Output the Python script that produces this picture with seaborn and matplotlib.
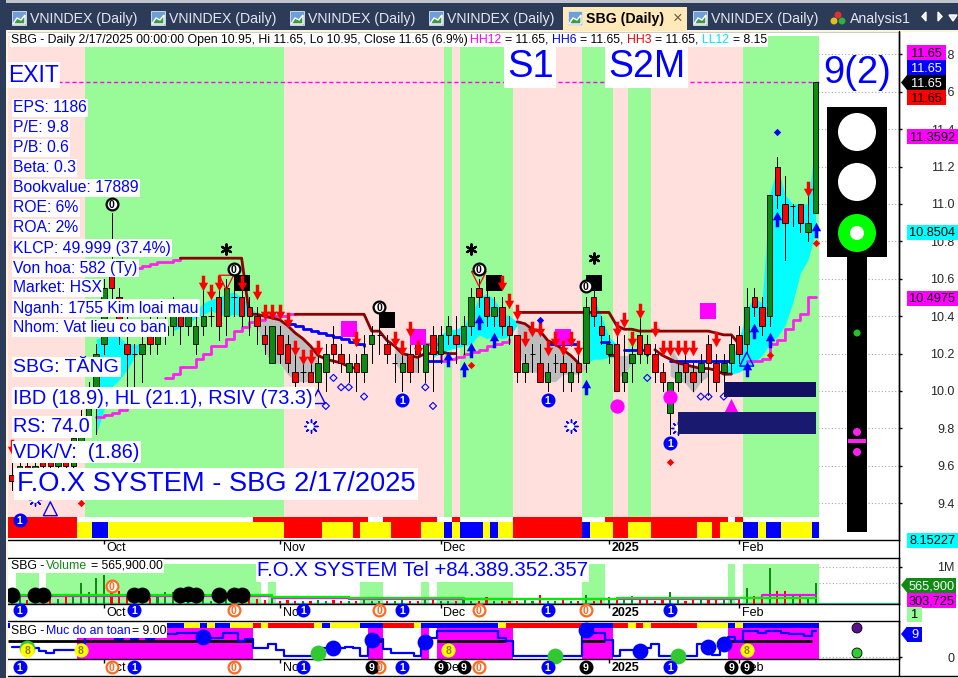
import numpy as np
import pandas as pd
import matplotlib
matplotlib.use("Agg")
import matplotlib.pyplot as plt
import seaborn as sns
from matplotlib.patches import Rectangle, Circle, Polygon
from matplotlib.path import Path
from matplotlib.transforms import ScaledTranslation

W, H = 958, 678
XLIM = (-0.53, 115.9)

opens = [9.55, 9.55, 9.60, 9.55, 9.65, 9.65, 9.60, 9.65, 9.60, 9.70,
         9.85, 10.00, 10.25, 10.70, 10.50, 10.25, 10.20, 10.20, 10.30, 10.25,
         10.30, 10.35, 10.40, 10.35, 10.25, 10.35, 10.40, 10.50, 10.40, 10.50,
         10.50, 10.45, 10.40, 10.30, 10.15, 10.30, 10.25, 10.10, 10.10, 10.10,
         10.05, 10.10, 10.25, 10.20, 10.10, 10.15, 10.10, 10.25, 10.30, 10.25,
         10.15, 10.10, 10.20, 10.25, 10.10, 10.30, 10.20, 10.30, 10.30, 10.25,
         10.35, 10.55, 10.50, 10.40, 10.45, 10.35, 10.30, 10.10, 10.20, 10.15,
         10.05, 10.15, 10.15, 10.05, 10.15, 10.15, 10.50, 10.35, 10.20, 10.25,
         10.05, 10.15, 10.30, 10.25, 10.20, 10.10, 9.88, 10.05, 10.15, 10.10,
         10.10, 10.25, 10.15, 10.10, 10.15, 10.30, 10.25, 10.50, 10.45, 10.40,
         11.20, 11.00, 10.99, 11.00, 10.85, 10.95]
closes = [9.52, 9.60, 9.55, 9.60, 9.60, 9.60, 9.65, 9.60, 9.75, 9.85,
          10.00, 10.20, 10.55, 10.55, 10.30, 10.20, 10.20, 10.25, 10.25, 10.30,
          10.35, 10.40, 10.35, 10.40, 10.35, 10.40, 10.40, 10.35, 10.55, 10.50,
          10.40, 10.40, 10.35, 10.25, 10.35, 10.20, 10.15, 10.05, 10.10, 10.05,
          10.15, 10.20, 10.20, 10.15, 10.15, 10.10, 10.20, 10.30, 10.30, 10.20,
          10.15, 10.15, 10.10, 10.20, 10.25, 10.20, 10.30, 10.35, 10.25, 10.35,
          10.50, 10.50, 10.40, 10.45, 10.35, 10.30, 10.10, 10.15, 10.20, 10.05,
          10.10, 10.15, 10.10, 10.10, 10.10, 10.45, 10.40, 10.30, 10.25, 10.00,
          10.10, 10.20, 10.20, 10.20, 10.10, 10.05, 10.05, 10.10, 10.10, 10.05,
          10.15, 10.15, 10.05, 10.15, 10.25, 10.20, 10.45, 10.45, 10.35, 11.05,
          11.05, 10.90, 10.99, 10.90, 10.90, 11.65]
highs = [9.62, 9.65, 9.65, 9.70, 9.70, 9.70, 9.70, 9.70, 9.80, 9.90,
         10.05, 10.25, 10.60, 10.95, 10.55, 10.40, 10.25, 10.30, 10.40, 10.40,
         10.45, 10.50, 10.45, 10.45, 10.40, 10.55, 10.45, 10.55, 10.60, 10.60,
         10.60, 10.50, 10.45, 10.35, 10.35, 10.35, 10.30, 10.20, 10.15, 10.15,
         10.20, 10.25, 10.35, 10.25, 10.20, 10.20, 10.30, 10.35, 10.40, 10.30,
         10.20, 10.20, 10.25, 10.30, 10.30, 10.35, 10.35, 10.40, 10.40, 10.40,
         10.55, 10.60, 10.55, 10.50, 10.50, 10.40, 10.30, 10.20, 10.25, 10.25,
         10.15, 10.20, 10.20, 10.15, 10.20, 10.50, 10.55, 10.40, 10.30, 10.30,
         10.30, 10.25, 10.40, 10.30, 10.25, 10.15, 10.05, 10.15, 10.20, 10.15,
         10.20, 10.30, 10.20, 10.20, 10.30, 10.35, 10.55, 10.55, 10.50, 11.05,
         11.25, 11.15, 11.00, 11.00, 11.10, 11.65]
lows = [9.47, 9.50, 9.50, 9.50, 9.55, 9.55, 9.55, 9.55, 9.55, 9.65,
        9.80, 9.77, 10.20, 10.45, 10.25, 10.00, 10.00, 10.05, 10.20, 10.20,
        10.25, 10.30, 10.25, 10.30, 10.20, 10.30, 10.35, 10.27, 10.30, 10.40,
        10.35, 10.30, 10.25, 10.20, 10.15, 10.15, 10.10, 10.00, 10.05, 10.05,
        10.00, 10.00, 10.15, 10.10, 10.05, 10.00, 10.05, 10.15, 10.20, 10.15,
        10.05, 10.00, 10.05, 10.10, 10.05, 10.00, 10.15, 10.25, 10.15, 10.20,
        10.30, 10.45, 10.35, 10.35, 10.30, 10.25, 10.05, 10.05, 10.10, 10.05,
        10.00, 10.10, 10.00, 10.00, 10.05, 10.10, 10.35, 10.25, 10.15, 10.00,
        10.00, 10.05, 10.15, 10.15, 10.05, 10.00, 9.77, 10.00, 10.05, 10.00,
        10.05, 9.98, 10.00, 10.05, 10.10, 10.15, 10.20, 10.40, 10.30, 10.35,
        10.98, 10.70, 10.88, 10.85, 10.80, 10.95]
volumes = [72, 180, 110, 135, 180, 270, 135, 180, 200, 570,
           315, 700, 790, 495, 360, 270, 200, 225, 160, 180,
           315, 315, 135, 135, 160, 270, 90, 270, 270, 225,
           160, 315, 135, 110, 180, 90, 110, 90, 90, 80,
           110, 90, 110, 70, 90, 70, 110, 80, 90, 70,
           80, 110, 90, 80, 180, 110, 90, 80, 80, 110,
           90, 70, 180, 90, 70, 80, 90, 110, 80, 240,
           90, 80, 110, 90, 80, 245, 90, 110, 200, 110,
           200, 225, 135, 110, 90, 135, 315, 110, 90, 135,
           110, 135, 110, 135, 110, 135, 420, 225, 180, 960,
           340, 360, 250, 225, 200, 566]
vol_fast = [252] * 34 + [190] * 10 + [160] * 15 + [126] * 20 + [160] * 27
vol_slow = [225] * 34 + [170] * 10 + [140] * 15 + [135] * 20 + [140] * 16 + [170] * 3 + [234] * 8
safety = [3.8, 3.8, 3.8, 3.5, 2.3, 1.4, 2.5, 2.5, 2.5, 2.0,
          8.0, 8.5, 9.0, 8.6, 7.0, 8.0, 7.0, 8.0, 7.0, 8.0,
          8.6, 8.6, 9.2, 9.2, 9.2, 7.3, 7.3, 7.3, 9.2, 9.2,
          6.0, 6.7, 3.5, 3.5, 4.8, 2.5, 0.4, 0.4, 0.4, 0.4,
          1.6, 3.5, 3.5, 3.5, 3.8, 3.5, 0.4, 4.8, 6.7, 2.9,
          1.4, 1.4, 1.4, 0.4, 3.8, 7.3, 9.9, 10.0, 10.0, 10.0,
          10.0, 9.9, 9.9, 10.0, 7.3, 6.0, 0.4, 0.4, 0.4, 0.4,
          0.4, 0.4, 0.4, 0.4, 0.4, 11.0, 9.2, 9.2, 6.3, 0.4,
          2.5, 2.5, 3.5, 3.5, 4.8, 0.4, 0.4, 0.4, 0.4, 0.4,
          4.8, 4.8, 0.7, 5.4, 7.6, 6.0, 10.0, 10.0, 9.2, 10.0,
          10.0, 9.0, 8.6, 8.6, 8.0, 10.0]

regime_codes = ["p", "g", "p", "g", "p", "g", "p", "g", "p", "g", "p", "g"]
regime_runs = [10, 26, 21, 1, 1, 7, 9, 4, 2, 3, 12, 10]
strip1_codes = ["r", "w", "r", "w", "r", "w", "r", "w", "r", "w", "r", "w", "r", "w"]
strip1_runs = [9, 23, 15, 2, 7, 2, 1, 7, 9, 3, 16, 1, 1, 10]
strip2_codes = ["r", "y", "b", "y", "r", "y", "r", "y", "r", "y",
                "b", "y", "b", "y", "b", "y", "r", "b", "y", "r",
                "y", "r", "y", "r", "y", "b", "y", "b", "y", "b"]
strip2_runs = [9, 2, 2, 23, 5, 4, 1, 4, 4, 3, 1, 1, 3, 1, 1, 2, 9, 1, 3, 2, 3, 6, 2, 1, 3, 2, 1, 2, 4, 1]
strip3_codes = ["b", "y", "b", "y", "b", "y", "r", "y", "r", "y", "b", "y", "b", "r", "y", "b", "y",
                "r", "b", "r", "y", "r", "y", "r", "y", "b", "y", "b"]
strip3_runs = [23, 2, 1, 1, 2, 3, 1, 1, 6, 1, 1, 4, 3, 4, 1, 10, 1, 10, 4, 2, 1, 1, 1, 6, 4, 1, 1, 10]
safe_zone_codes = ["w", "m", "w", "m", "w", "m", "w", "m", "w", "m", "w", "m"]
safe_zone_runs = [9, 23, 15, 2, 5, 1, 1, 10, 9, 4, 15, 12]
vol_zone_codes = ["w", "g", "w", "g", "w", "g", "w", "g", "w", "g", "w", "g", "w", "g", "w", "g", "w", "g"]
vol_zone_runs = [1, 3, 1, 28, 1, 1, 11, 3, 5, 1, 1, 10, 9, 3, 16, 1, 1, 10]

# indicator lines, each piece = start bar + values
dark_pieces = [
    (22, [10.71] * 9 + [10.41, 10.41, 10.40, 10.39, 10.38, 10.35, 10.31, 10.28, 10.24, 10.19, 10.17, 10.16, 10.15, 10.13, 10.12]),
    (37, [10.41] * 10 + [10.32, 10.32, 10.27, 10.24, 10.20, 10.19, 10.18, 10.20, 10.20, 10.21, 10.20, 10.20]),
    (66, [10.37, 10.36, 10.33, 10.32, 10.27, 10.25, 10.22, 10.19, 10.15]),
    (66, [10.42] * 13 + [10.35, 10.33, 10.33, 10.32, 10.32, 10.32, 10.32, 10.32, 10.32, 10.32, 10.32, 10.32, 10.32, 10.31, 10.30, 10.30, 10.25]),
    (78, [10.19, 10.19]),
    (84, [10.22, 10.19, 10.17, 10.15, 10.14, 10.13, 10.12, 10.12, 10.11, 10.09, 10.09]),
]
blue_pieces = [
    (36, [10.36, 10.35, 10.33, 10.32, 10.31, 10.30, 10.29, 10.28, 10.26, 10.25, 10.24]),
    (54, [10.16, 10.16, 10.16]),
    (70, [10.25, 10.25, 10.25, 10.25, 10.25]),
    (77, [10.26, 10.26]),
    (80, [10.22, 10.22, 10.22, 10.19]),
    (86, [10.16] * 9),
]
magenta_pieces = [
    (11, [9.86, 9.87, 9.88, 9.90, 9.92, 9.94, 9.95, 9.97, 9.99]),
    (16, [10.66, 10.67, 10.68, 10.69, 10.69, 10.70, 10.71]),
    (20, [10.07, 10.09, 10.13, 10.13, 10.17, 10.20, 10.24, 10.24, 10.28, 10.32, 10.34, 10.37, 10.38, 10.40, 10.40, 10.40, 10.41, 10.41]),
    (54, [10.25, 10.25, 10.16, 10.17, 10.18, 10.20, 10.21, 10.22, 10.24, 10.25, 10.26, 10.28]),
    (92, [10.16, 10.16, 10.16]),
    (96, [10.16, 10.16, 10.17, 10.25, 10.27, 10.33, 10.38, 10.41, 10.50, 10.50]),
]
cyan_pieces = [
    (11, [10.28, 10.29, 10.32, 10.29, 10.25, 10.25, 10.25], [9.77, 9.90, 10.02, 10.06, 10.11, 10.18, 10.24]),
    (21, [10.38, 10.40, 10.41, 10.43, 10.47, 10.49, 10.50, 10.52, 10.53, 10.50, 10.46, 10.41],
     [10.32, 10.34, 10.36, 10.39, 10.41, 10.43, 10.41, 10.40, 10.41, 10.40, 10.41, 10.40]),
    (55, [10.27, 10.30, 10.33, 10.33, 10.35, 10.41, 10.50, 10.52, 10.49, 10.42, 10.40, 10.37],
     [10.18, 10.20, 10.22, 10.23, 10.24, 10.25, 10.30, 10.28, 10.29, 10.28, 10.29, 10.35]),
    (75, [10.34, 10.50, 10.40, 10.29, 10.25], [10.15, 10.17, 10.17, 10.18, 10.18]),
    (93, [10.09, 10.17, 10.27, 10.44, 10.50, 10.47, 11.05, 11.20, 11.05, 11.00, 11.00, 11.00, 11.35],
     [10.08, 10.09, 10.10, 10.13, 10.15, 10.19, 10.25, 10.29, 10.35, 10.47, 10.63, 10.70, 10.85]),
]
gray_pieces = [
    (32, [10.40, 10.39, 10.40, 10.38, 10.35, 10.32, 10.28, 10.24, 10.19], [10.36, 10.21, 10.15, 10.15, 10.09, 10.05, 10.05, 10.05, 10.15]),
    (50, [10.24, 10.20, 10.19, 10.18], [10.15, 10.10, 10.10, 10.10]),
    (66, [10.37, 10.36, 10.33, 10.32, 10.27, 10.25, 10.22, 10.19, 10.15, 10.14], [10.24, 10.10, 10.10, 10.10, 10.05, 10.05, 10.09, 10.09, 10.09, 10.12]),
    (79, [10.19, 10.19, 10.19], [10.07, 10.09, 10.15]),
    (86, [10.24, 10.17, 10.15, 10.13, 10.11, 10.10], [10.08, 10.06, 10.04, 9.99, 10.05, 10.08]),
]

down_x = [0, 25, 26, 27, 30, 32, 33, 34, 35, 36, 37, 38, 39, 40, 45, 50, 51, 52, 53,
          64, 65, 66, 67, 68, 69, 70, 71, 72, 73, 74, 79, 80, 81, 82, 84, 85, 86, 87, 88, 89, 92, 104]
down_y = [9.70, 10.58, 10.53, 10.58, 10.58, 10.53, 10.42, 10.42, 10.42, 10.38, 10.23, 10.18, 10.18, 10.23, 10.28, 10.28, 10.23, 10.33, 10.23,
          10.58, 10.48, 10.42, 10.28, 10.33, 10.33, 10.23, 10.28, 10.23, 10.28, 10.23, 10.33, 10.38, 10.28, 10.43, 10.33, 10.23, 10.23, 10.23, 10.23, 10.23, 10.28, 11.08]
up_x = [57, 59, 60, 61, 63, 75, 96, 97, 99, 100, 105]
up_y = [10.17, 10.12, 10.22, 10.37, 10.27, 10.02, 10.12, 10.32, 10.27, 10.92, 10.86]
square_x = [30, 49, 63, 76]
square_y = [10.58, 10.38, 10.58, 10.58]
zero_x = [29, 48, 13, 61, 75]
zero_y = [10.65, 10.45, 11.00, 10.65, 10.56]
star_x = [28, 60, 76]
star_y = [10.76, 10.76, 10.71]
one_x = [1, 51, 70, 86]
one_y = [9.31, 9.95, 9.95, 9.72]
flake_x = [3, 39, 73, 87]
flake_y = [9.42, 9.81, 9.81, 9.80]
hollow_x = [41, 42, 43, 44, 46, 54, 55, 83, 90, 91, 93]
hollow_y = [9.92, 10.07, 10.02, 10.02, 9.97, 10.02, 9.92, 10.07, 9.97, 9.97, 9.97]
red_dot_x = [9, 60, 86, 99, 105]
red_dot_y = [9.40, 10.14, 9.62, 10.19, 10.79]
blue_dot_x = [100, 69]
blue_dot_y = [11.385, 10.38]
mag_sq_x = [44, 53, 72, 91]
mag_sq_y = [10.33, 10.29, 10.29, 10.43]
mag_dot_x = [79, 86]
mag_dot_y = [9.92, 9.97]
mag_tri_x = [94]
mag_tri_y = [9.92]
tri_x = [40, 5, 96]
tri_y = [9.97, 9.37, 10.17]
inv_tri_x = [28, 61]
inv_tri_y = [10.58, 10.60]
exit_price = 11.65
zone_left = [93, 87]
zone_low = [9.97, 9.77]
zone_high = [10.05, 9.89]

vol_dot_x = [0, 3, 4, 16, 17, 22, 23, 24, 27, 29, 30]
vol_dot_y = [250, 250, 250, 250, 250, 240, 260, 250, 250, 250, 250]
vol_row_one = [1, 16, 38, 51, 70, 86]
vol_row_zero = [29, 48, 61, 75]
safe_row_zero = [13, 29, 48, 61]
safe_row_nine = [47, 56, 59, 75, 94, 96]
safe_blue_x = [25, 42, 47, 54, 75, 82, 91, 93]
safe_blue_y = [7.7, 3.5, 6.5, 5.8, 10.1, 2.3, 3.8, 4.8]
safe_green_x = [2, 40, 71, 87]
safe_green_y = [3.5, 1.4, 0.2, 0.2]
safe_eight_x = [2, 9, 57, 96]
safe_eight_y = [2.6, 2.6, 2.5, 2.5]
safe_line_pieces = [(0, 32), (47, 49), (54, 55), (56, 65), (75, 78), (93, 105)]
safe_level = 6

month_pos = [12, 35, 56, 78, 95]
month_names = ["Oct", "Nov", "Dec", "2025", "Feb"]
price_ticks = [9.4, 9.6, 9.8, 10.0, 10.2, 10.4, 10.6, 10.8, 11.0, 11.2, 11.4, 11.6, 11.8]

COL = {"p": "#ffe0dc", "g": "#98fb98", "w": "white", "r": "#ff0000", "y": "#ffff00",
       "b": "#0000ff", "m": "#ff00ff"}
BLUE = "#0000ff"
GREEN = "#0f8a12"
DARK = "#8b0000"
MAG = "#ff22ee"
ARROW_DOWN = Path([(-.22, 1), (.22, 1), (.22, .1), (.6, .1), (0, -1), (-.6, .1), (-.22, .1), (-.22, 1)], closed=True)
ARROW_UP = Path([(-.22, -1), (.22, -1), (.22, -.1), (.6, -.1), (0, 1), (-.6, -.1), (-.22, -.1), (-.22, -1)], closed=True)

sns.set_theme(style="white")
plt.rcParams["font.family"] = ["Liberation Sans", "DejaVu Sans"]
plt.rcParams["axes.linewidth"] = 1.0

fig = plt.figure(figsize=(W / 100, H / 100), dpi=100, facecolor="white")


def panel(left, top, right, bottom):
    ax = fig.add_axes([left / W, 1 - bottom / H, (right - left) / W, (bottom - top) / H])
    ax.set_xlim(*XLIM)
    ax.margins(0)
    ax.yaxis.tick_right()
    ax.spines["left"].set_visible(False)
    for side in ["top", "bottom", "right"]:
        ax.spines[side].set_color("black")
    return ax


def paint_runs(ax, codes, runs, low, high, axes_frac=False):
    tr = ax.get_xaxis_transform() if axes_frac else ax.transData
    i = 0
    for c, n in zip(codes, runs):
        ax.add_patch(Rectangle((i - 0.5, low), n, high - low, fc=COL[c], ec="none", zorder=1.2, transform=tr))
        i += n


def draw_line(ax, start, values, color, lw, z=4, **kw):
    xs = np.arange(start, start + len(values))
    sns.lineplot(x=xs, y=values, ax=ax, color=color, linewidth=lw, zorder=z, legend=False,
                 estimator=None, sort=False, **kw)


def marks(ax, xs, ys, marker, size, color, z=7):
    sns.scatterplot(x=xs, y=ys, ax=ax, marker=marker, s=size, color=color, linewidth=0, zorder=z, legend=False, clip_on=False)


def hollow(ax, xs, ys, marker, size, edge, lw=1.0, face="none", z=7):
    ax.scatter(xs, ys, marker=marker, s=size, facecolors=face, edgecolors=edge, linewidths=lw, zorder=z, clip_on=False)


def digit(ax, x, y, label, filled, color, trans=None, z=8):
    tr = trans if trans is not None else ax.transData
    face = color if filled else "white"
    tc = "white" if filled else color
    ax.scatter([x], [y], s=72, facecolors=face, edgecolors=color, linewidths=1.6, transform=tr, zorder=z, clip_on=False)
    ax.text(x, y, label, color=tc, fontsize=7.6, fontweight="bold", ha="center", va="center_baseline",
            transform=tr, zorder=z + 0.1, clip_on=False)


def month_axis(ax, pad):
    ax.set_xticks(month_pos, month_names, ha="left", fontsize=9, color="black")
    ax.tick_params(axis="x", direction="out", length=3, width=1, pad=pad, color="black", bottom=True)
    for lab in ax.get_xticklabels():
        lab.set_transform(lab.get_transform() + ScaledTranslation(2 / 72, 0, fig.dpi_scale_trans))
        if lab.get_text() == "2025":
            lab.set_fontweight("bold")


def right_ticks(ax, ticks, labels):
    ax.set_yticks(ticks, labels, fontsize=9, ha="right")
    ax.tick_params(axis="y", direction="out", length=2.5, width=1, color="black", pad=37.5, right=True)


bars = np.arange(len(opens))
frame = pd.DataFrame({"bar": bars, "open": opens, "high": highs, "low": lows, "close": closes, "volume": volumes})
frame["up"] = frame["close"] >= frame["open"]

# ------ price panel
ax = panel(8, 31, 899, 540)
ax.set_ylim(9.203, 11.925)
ax.set_facecolor("white")
right_ticks(ax, price_ticks, [f"{t:.1f}" for t in price_ticks])
ax.set_axisbelow(True)
ax.grid(axis="y", linestyle=(0, (1, 2)), color="#a8a8a8", linewidth=0.8)
ax.grid(axis="x", visible=False)
month_axis(ax, -1.5)

i0 = 0
for c, n in zip(regime_codes, regime_runs):
    ax.axvspan(i0 - 0.5, i0 - 0.5 + n, ymin=(540 - 538) / 509, ymax=(540 - 36) / 509, color=COL[c], lw=0, zorder=1)
    i0 += n
paint_runs(ax, strip1_codes, strip1_runs, 9.326, 9.299)
paint_runs(ax, strip2_codes, strip2_runs, 9.299, 9.214)

for start, tops, bots in cyan_pieces:
    xs = np.arange(start, start + len(tops))
    ax.fill_between(xs, bots, tops, color="#00ffff", lw=0, zorder=2)
for start, tops, bots in gray_pieces:
    xs = np.arange(start, start + len(tops))
    ax.fill_between(xs, bots, tops, color="#bdbdbd", lw=0, zorder=2)

for start, vals in magenta_pieces:
    draw_line(ax, start, vals, MAG, 2.0, z=3, drawstyle="steps-post")
for start, vals in blue_pieces:
    draw_line(ax, start, vals, BLUE, 2.0, z=3, drawstyle="steps-post")
for start, vals in dark_pieces:
    draw_line(ax, start, vals, DARK, 2.0, z=3.2)

ax.vlines(frame["bar"], frame["low"], frame["high"], color="black", lw=0.72, zorder=5, antialiased=False)
body = frame[frame["open"] != frame["close"]]
ax.bar(body["bar"], (body["close"] - body["open"]).abs(), bottom=body[["open", "close"]].min(axis=1), width=0.72,
       color=[GREEN if u else COL["r"] for u in body["up"]], edgecolor="black", linewidth=0.6, zorder=5.5)
doji = frame[frame["open"] == frame["close"]]
ax.hlines(doji["close"], doji["bar"] - 0.36, doji["bar"] + 0.36, color="black", lw=0.72, zorder=5.5)

ax.hlines(exit_price, 6, 105.5, color="#ff00ff", lw=1.0, linestyle=(0, (3, 2)), zorder=5)

for left, low, high, col in zip(zone_left, zone_low, zone_high, ["#120e62", "#191970"]):
    ax.add_patch(Rectangle((left, low), 105.0 - left, high - low, fc=col, ec="none", zorder=9))

marks(ax, square_x, square_y, "s", 130, "black", z=6)
marks(ax, mag_sq_x, mag_sq_y, "s", 140, "#ff00ff", z=6)
marks(ax, mag_dot_x, mag_dot_y, "o", 105, "#ff00ff", z=6)
marks(ax, mag_tri_x, mag_tri_y, "^", 120, "#ff00ff", z=6)
marks(ax, down_x, down_y, ARROW_DOWN, 125, "#ff0000")
marks(ax, up_x, up_y, ARROW_UP, 125, BLUE)
marks(ax, red_dot_x, red_dot_y, "D", 14, "#ff0000")
marks(ax, blue_dot_x, blue_dot_y, "D", 14, BLUE)
hollow(ax, hollow_x, hollow_y, "D", 13, BLUE, 0.8)
hollow(ax, tri_x, tri_y, "^", 100, BLUE, 1.0)
hollow(ax, inv_tri_x, inv_tri_y, "v", 110, "#ff0000", 0.9)
ax.scatter(flake_x, flake_y, marker=(8, 2, 0), s=90, color=BLUE, linewidths=1.0, zorder=7)
ax.scatter(flake_x, flake_y, marker="o", s=25, facecolors="white", edgecolors="none", zorder=7.1)
ax.scatter(star_x, star_y, marker=(6, 2, 0), s=55, color="black", linewidths=1.6, zorder=7)
for x, y in zip(zero_x, zero_y):
    digit(ax, x, y, "0", False, "black")
for x, y in zip(one_x, one_y):
    digit(ax, x, y, "1", True, BLUE)

# ------ volume panel
vol = panel(8, 558, 899, 604)
vol.set_ylim(0, 1243)
right_ticks(vol, [1000], ["1M"])
i0 = 0
for c, n in zip(vol_zone_codes, vol_zone_runs):
    if c == "g":
        vol.axvspan(i0 - 0.5, i0 - 0.5 + n, ymax=(604 - 564) / 46, color=COL["g"], lw=0, zorder=1)
    i0 += n
vol.hlines([1000, 566], 105.5, XLIM[1], color="#a8a8a8", linestyle=(0, (1, 2)), lw=0.8, zorder=1)
sns.barplot(data=frame, x="bar", y="volume", hue="up", palette={True: GREEN, False: "#ff0000"}, native_scale=True,
            dodge=False, width=0.28, legend=False, ax=vol, zorder=3, saturation=1, edgecolor="none", linewidth=0)
vol.set_xlim(*XLIM)
vol.set_xlabel("")
vol.set_ylabel("")
vol.axhline(20, color="#40c8b0", lw=1.0, zorder=2)
draw_line(vol, 0, vol_slow, "#ff00ff", 1.6, z=3.5, drawstyle="steps-post")
draw_line(vol, 0, vol_fast, "#00ee00", 1.6, z=3.6, drawstyle="steps-post")
marks(vol, vol_dot_x, vol_dot_y, "o", 130, "black", z=6)
vol_tr = vol.get_xaxis_transform()
digit(vol, 13, 0.4, "0", False, "#ff6a20", trans=vol_tr)
month_axis(vol, -0.7)
for x in vol_row_one:
    digit(vol, x, -0.13, "1", True, BLUE, trans=vol_tr)
for x in vol_row_zero:
    digit(vol, x, -0.13, "0", False, "#ff6a20", trans=vol_tr)
vol.set_xlim(*XLIM)

# ------ safety panel
saf = panel(8, 621, 899, 659)
saf.set_ylim(-0.76, 13.7)
right_ticks(saf, [0], ["0"])
i0 = 0
for c, n in zip(safe_zone_codes, safe_zone_runs):
    if c == "m":
        saf.axvspan(i0 - 0.5, i0 - 0.5 + n, ymax=(659 - 628) / 38, color=COL["m"], lw=0, zorder=1)
    i0 += n
saf.hlines(0, 105.5, XLIM[1], color="#a8a8a8", linestyle=(0, (1, 2)), lw=0.8, zorder=1)
paint_runs(saf, strip3_codes, strip3_runs, (659 - 628) / 38, (659 - 623) / 38, axes_frac=True)
for a, b in safe_line_pieces:
    saf.hlines(safe_level, a - 0.5, b - 0.5, color="black", lw=2.0, zorder=3)
draw_line(saf, 0, safety, BLUE, 1.6, z=4, drawstyle="steps-mid")
marks(saf, safe_green_x, safe_green_y, "o", 130, "#32c832", z=5)
marks(saf, safe_blue_x, safe_blue_y, "o", 130, BLUE, z=6)
saf.scatter(safe_eight_x, safe_eight_y, s=85, facecolors="#ffff00", edgecolors="#ffff00", zorder=7, clip_on=False)
for x, y in zip(safe_eight_x, safe_eight_y):
    saf.text(x, y, "8", color="#8a7a00", fontsize=7.6, fontweight="bold", ha="center", va="center_baseline", zorder=7.1)
month_axis(saf, -0.7)
saf_tr = saf.get_xaxis_transform()
for x in vol_row_one:
    digit(saf, x, -0.21, "1", True, BLUE, trans=saf_tr)
for x in safe_row_zero:
    digit(saf, x, -0.21, "0", False, "#ff6a20", trans=saf_tr)
for x in safe_row_nine:
    digit(saf, x, -0.21, "9", True, "black", trans=saf_tr)
saf.set_xlim(*XLIM)

# ------ window chrome and labels, in pixels
ov = fig.add_axes([0, 0, 1, 1], zorder=20)
ov.set_xlim(0, W)
ov.set_ylim(H, 0)
ov.axis("off")
ov.patch.set_alpha(0)

ov.add_patch(Rectangle((0, 0), W, 31, fc="#2c3b58", ec="none"))
ov.add_patch(Rectangle((0, 0), W, 2.5, fc="#c0c4cc", ec="none"))
ov.add_patch(Rectangle((0, 0), 6, H, fc="#2c3b58", ec="none"))
ov.add_patch(Rectangle((6, 30), W - 6, 2, fc="#fff3d8", ec="none"))
ov.add_patch(Rectangle((6, 30), 2, H - 30, fc="#fff3d8", ec="none"))
ov.add_patch(Rectangle((563, 7), 124, 24, fc="#ffe9b8", ec="none"))
ov.plot([899, 899], [31, 676], color="black", lw=1.0)
ov.plot([8, W], [676, 676], color="black", lw=1.0)

for tab_x in [12, 151, 290, 429, 693]:
    ov.add_patch(Rectangle((tab_x, 11), 14, 14, fc="#6f9fd8", ec="#dfe6f0", lw=0.6))
    ov.add_patch(Polygon([(tab_x + 1, 24), (tab_x + 5, 18), (tab_x + 9, 20), (tab_x + 13, 15), (tab_x + 13, 24)], fc="#3f9a3f"))
    ov.text(tab_x + 18, 19, "VNINDEX (Daily)", color="#e4e7ee", fontsize=10.2, va="center")
ov.add_patch(Rectangle((568, 11), 14, 14, fc="#6f9fd8", ec="#dfe6f0", lw=0.6))
ov.add_patch(Polygon([(569, 24), (573, 18), (577, 20), (581, 15), (581, 24)], fc="#3f9a3f"))
ov.text(586, 19, "SBG (Daily)", color="black", fontsize=10.2, fontweight="bold", va="center")
ov.text(673, 18, "×", color="#6b5b45", fontsize=12, va="center")
ov.scatter([838, 834, 842], [15, 21, 21], s=16, c=["#e03030", "#e0c020", "#30b040"], marker="o")
ov.text(850, 19, "Analysis1", color="#e4e7ee", fontsize=10.2, va="center")
ov.add_patch(Polygon([(926, 12), (926, 21), (922, 16.5)], fc="#e4e7ee"))
ov.add_patch(Polygon([(938, 12), (938, 21), (942, 16.5)], fc="#e4e7ee"))
ov.add_patch(Polygon([(949, 15), (957, 15), (953, 21)], fc="#e4e7ee"))

# header line
ov.add_patch(Rectangle((10, 33), 758, 13.5, fc="white", ec="none"))
header_parts = [
    (11, "SBG - Daily 2/17/2025 00:00:00 Open 10.95, Hi 11.65, Lo 10.95, Close 11.65 (6.9%)", "black"),
    (470, "HH12", "#ff00ff"), (505, "= 11.65,", "black"), (552, "HH6", BLUE), (580, "= 11.65,", "black"),
    (627, "HH3", "#ff0000"), (655, "= 11.65,", "black"), (702, "LL12", "#00e8ff"), (733, "= 8.15", "black"),
]
for x, s, c in header_parts:
    ov.text(x, 40, s, color=c, fontsize=8.8, va="center")


def label(x, y, s, size, pad=1.0):
    ov.text(x, y, s, color=BLUE, fontsize=size, va="center", ha="left",
            bbox=dict(fc="white", ec="none", pad=pad))


label(8, 75, "EXIT", 16.5)
label(507, 67, "S1", 27.5, pad=2)
label(608, 67, "S2M", 27, pad=2)
ov.text(823, 73, "9(2)", color=BLUE, fontsize=27.5, va="center")

fund_labels = ["EPS: 1186", "P/E: 9.8", "P/B: 0.6", "Beta: 0.3", "Bookvalue: 17889", "ROE: 6%", "ROA: 2%",
               "KLCP: 49.999 (37.4%)", "Von hoa: 582 (Ty)", "Market: HSX", "Nganh: 1755 Kim loai mau", "Nhom: Vat lieu co ban"]
for k, s in enumerate(fund_labels):
    label(13, 108 + 20 * k, s, 11.3)
label(13.5, 367, "SBG: TĂNG", 14)
label(13.5, 398, "IBD (18.9), HL (21.1), RSIV (73.3)", 14.4)
label(13.5, 427, "RS: 74.0", 14.2)
label(13.5, 452, "VDK/V:  (1.86)", 14.2)
label(17, 484, "F.O.X SYSTEM - SBG 2/17/2025", 19.6, pad=2)
label(257, 571, "F.O.X SYSTEM Tel +84.389.352.357", 14.7)
ov.add_patch(Rectangle((10, 559), 154, 14, fc="white", ec="none"))
ov.text(11, 566, "SBG -", color="black", fontsize=8.8, va="center")
ov.text(46, 566, "Volume", color="#0f8a12", fontsize=8.8, va="center")
ov.text(91, 566, "= 565,900.00", color="black", fontsize=8.8, va="center")
ov.add_patch(Rectangle((10, 623), 157, 15, fc="white", ec="none"))
ov.text(11, 631, "SBG -", color="black", fontsize=8.8, va="center")
ov.text(46, 631, "Muc do an toan", color=BLUE, fontsize=8.8, va="center")
ov.text(132, 631, "= 9.00", color="black", fontsize=8.8, va="center")

# traffic light
ov.add_patch(Rectangle((827, 107), 60, 150, fc="black", ec="none"))
ov.add_patch(Rectangle((847, 257), 20, 275, fc="black", ec="none"))
ov.add_patch(Circle((857, 132), 19, fc="white", ec="none"))
ov.add_patch(Circle((857, 182), 19, fc="white", ec="none"))
ov.add_patch(Circle((857, 233), 19, fc="#00ff00", ec="none"))
ov.add_patch(Circle((857, 233), 7, fc="white", ec="none"))
ov.add_patch(Circle((857, 333), 3.5, fc="#22c522", ec="none"))
ov.add_patch(Circle((857, 432), 4, fc="#ff22ee", ec="none"))
ov.add_patch(Circle((857, 452), 4, fc="#ff22ee", ec="none"))
ov.add_patch(Rectangle((848, 439), 18, 3.5, fc="#ff22ee", ec="none"))
ov.add_patch(Circle((857, 628), 5, fc="#5b0f8c", ec="black", lw=0.6))
ov.add_patch(Circle((857, 653), 5, fc="#32cd32", ec="black", lw=0.6))


def tag(y, s, fc, tc, right=946, left=907, point=False):
    ov.add_patch(Rectangle((left, y - 7.5), right - left, 15, fc=fc, ec="none", zorder=5))
    if point:
        ov.add_patch(Polygon([(left, y - 7.5), (left, y + 7.5), (901, y)], fc=fc, ec="none", zorder=5))
    ov.text((left + right) / 2, y, s, color=tc, fontsize=9.2, ha="center", va="center_baseline", zorder=6)


tag(52.5, "11.65", "#ff00ff", "black")
tag(67.5, "11.65", BLUE, "white")
tag(82.5, "11.65", "black", "white", point=True)
tag(97.5, "11.65", "#ff0000", "black")
tag(136.5, "11.3592", "#ff00ff", "black", right=958)
tag(232, "10.8504", "#00ffff", "black", right=958)
tag(298, "10.4975", "#ff00ff", "black", right=958)
tag(540, "8.15227", "#00ffff", "black", right=958)
tag(585, "565,900", "#0f8a12", "white", right=956, point=True)
tag(600, "303,725", "#ff00ff", "black", right=956)
tag(614, "1", "#98fb98", "black", right=922)
tag(634, "9", BLUE, "white", right=922, point=True)

fig.savefig("out.png", dpi=100, facecolor="white")
